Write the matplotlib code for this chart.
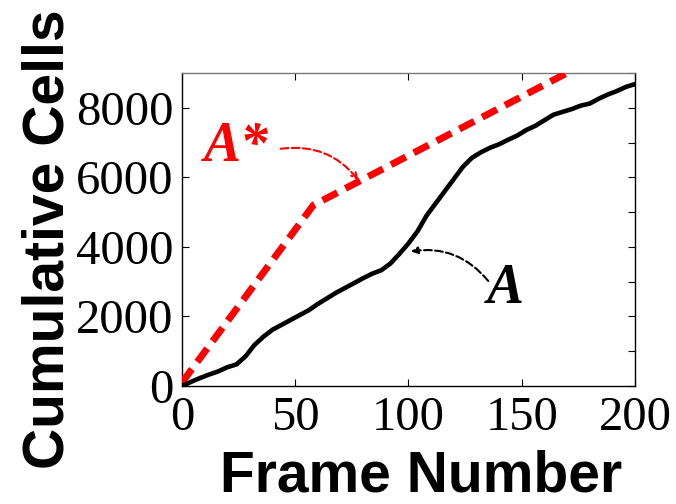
import matplotlib
matplotlib.use('Agg')
import matplotlib.pyplot as plt
from matplotlib.ticker import MultipleLocator

# cumulative cells per frame
frames = [0, 4, 8, 12, 16, 20, 24, 28, 32, 36, 40, 44, 48, 52, 56, 60, 64, 68,
          72, 76, 80, 84, 88, 92, 96, 100, 104, 108, 112, 116, 120, 124, 128,
          132, 136, 140, 144, 148, 152, 156, 160, 164, 168, 172, 176, 180, 184,
          188, 192, 196, 200]
cells_a = [0, 120, 230, 330, 420, 540, 620, 850, 1180, 1420, 1620, 1760, 1900,
           2040, 2180, 2360, 2520, 2680, 2820, 2960, 3100, 3230, 3330, 3520,
           3800, 4100, 4450, 4900, 5250, 5600, 5950, 6300, 6560, 6720, 6850,
           6950, 7080, 7200, 7360, 7480, 7640, 7800, 7880, 7960, 8060, 8120,
           8260, 8380, 8480, 8600, 8680]

# optimal curve A*
frames_opt = [0, 58, 170]
cells_opt = [100, 5200, 9000]

xticks = [0, 50, 100, 150, 200]
yticks = [0, 2000, 4000, 6000, 8000]

fig = plt.figure(figsize=(6.76, 5.04), dpi=100)
ax = fig.add_axes([0.2692, 0.2341, 0.6701, 0.6211])

ax.plot(frames_opt, cells_opt, color='red', lw=5, linestyle=(0, (2.4, 1.3)),
        dash_capstyle='butt', zorder=3)
ax.plot(frames, cells_a, color='black', lw=3.3, zorder=4)

ax.set_xlim(0, 200)
ax.set_ylim(0, 9000)
ax.set_xticks(xticks)
ax.set_yticks(yticks)
ax.yaxis.set_minor_locator(MultipleLocator(1000))
ax.tick_params(which='major', direction='in', length=5, width=0.8,
               top=True, right=True, labelsize=35)
ax.tick_params(which='minor', direction='in', length=5, width=0.8,
               left=False, right=True)
ax.tick_params(axis='x', pad=7)
ax.tick_params(axis='y', pad=6)
for lab in ax.get_xticklabels() + ax.get_yticklabels():
    lab.set_fontfamily('Liberation Serif')
for s in ax.spines.values():
    s.set_linewidth(1.0)
ax.spines['top'].set_color('#777777')

ax.set_xlabel('Frame Number', fontfamily='Liberation Sans', fontweight='bold',
              fontsize=41)
ax.set_ylabel('Cumulative Cells', fontfamily='Liberation Sans', fontweight='bold',
              fontsize=41)
ax.xaxis.set_label_coords(0.528, -0.202)
ax.yaxis.set_label_coords(-0.236, 0.47)

ax.annotate('', xy=(78.6, 5856), xytext=(42.4, 6810),
            arrowprops=dict(arrowstyle='->', color='red', lw=1.5, ls='--',
                            connectionstyle='arc3,rad=-0.3'))
ax.text(24, 6870, 'A*', color='red', fontsize=40, fontfamily='Liberation Serif',
        fontweight='bold', fontstyle='italic', ha='center', va='center')

ax.annotate('', xy=(99.8, 3856), xytext=(136, 2957),
            arrowprops=dict(arrowstyle='-|>', color='black', lw=1.5, ls='--',
                            connectionstyle='arc3,rad=0.3'))
ax.text(142.6, 2783, 'A', color='black', fontsize=40, fontfamily='Liberation Serif',
        fontweight='bold', fontstyle='italic', ha='center', va='center')

fig.savefig('out.png', dpi=100)
plt.close(fig)
